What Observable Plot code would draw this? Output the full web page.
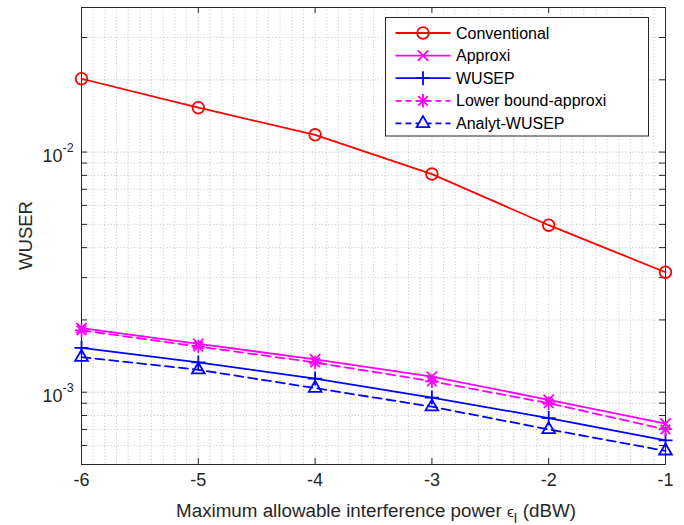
<!DOCTYPE html>
<html><head><meta charset="utf-8">
<script src="https://cdn.jsdelivr.net/npm/d3@7"></script>
<script src="https://cdn.jsdelivr.net/npm/@observablehq/plot@0.6"></script>
<style>
body{margin:0;background:#fff;}
#wrap{position:relative;width:684px;height:525px;}
</style>
</head><body><div id="wrap"></div>
<script>
// ---- data ----
const xValues = [-6, -5, -4, -3, -2, -1];
const conventional = [0.0202, 0.0153, 0.0118, 0.0081, 0.00496, 0.00316];
const approxi = [0.00185, 0.00159, 0.00137, 0.00116, 0.00093, 0.00074];
const wusep = [0.00153, 0.00133, 0.00114, 0.00095, 0.00078, 0.00063];
const lowerBoundApproxi = [0.00181, 0.00155, 0.00133, 0.00111, 0.00090, 0.00070];
const analytWusep = [0.00140, 0.00124, 0.00104, 0.00087, 0.00070, 0.00057];
const seriesNames = ["Conventional", "Approxi", "WUSEP", "Lower bound-approxi", "Analyt-WUSEP"];
const seriesColors = ["#ff0000", "#ff00ff", "#0000ff", "#ff00ff", "#0000ff"];
const seriesDash = [null, null, null, "9,5", "9,5"];
const xTicks = [-6, -5, -4, -3, -2, -1];
const yMajorTicks = [1e-3, 1e-2];
const yTickExponents = ["-3", "-2"];
const yMinorTicks = [5e-4, 6e-4, 7e-4, 8e-4, 9e-4, 2e-3, 3e-3, 4e-3, 5e-3, 6e-3, 7e-3, 8e-3, 9e-3, 2e-2, 3e-2, 4e-2];
const xMinorTicks = d3.range(-60, -9).map(v => v / 10);
const yDomain = [5e-4, 4e-2];

const seriesValues = [conventional, approxi, wusep, lowerBoundApproxi, analytWusep];
const rows = [];
seriesNames.forEach((name, s) => {
  xValues.forEach((x, i) => rows.push({series: name, x, y: seriesValues[s][i]}));
});
const bySeries = name => rows.filter(r => r.series === name);

const W = 684, H = 525, mL = 81, mR = 19, mT = 7, mB = 61;
const fw = W - mL - mR, fh = H - mT - mB;
const axisColor = "#262626";
const gridStyle = {stroke: "#b4b4b4", strokeDasharray: "1,2.3", strokeWidth: 0.8};
const tickLen = 6;
const lw = 1.8;

const marks = [
  Plot.ruleX(xMinorTicks, {x: d => d, ...gridStyle}),
  Plot.ruleY(yMinorTicks, {y: d => d, ...gridStyle}),
  Plot.ruleY(yMajorTicks, {y: d => d, ...gridStyle, stroke: "#a0a0a0"}),
  Plot.frame({stroke: axisColor, strokeWidth: 1}),
  // inward ticks
  Plot.tickX(xTicks, {x: d => d, insetTop: fh - tickLen, stroke: axisColor}),
  Plot.tickX(xTicks, {x: d => d, insetBottom: fh - tickLen, stroke: axisColor}),
  Plot.tickY(yMajorTicks.concat(yMinorTicks), {y: d => d, insetRight: fw - tickLen, stroke: axisColor}),
  Plot.tickY(yMajorTicks.concat(yMinorTicks), {y: d => d, insetLeft: fw - tickLen, stroke: axisColor}),
  // tick labels
  Plot.text(xTicks, {x: d => d, frameAnchor: "bottom", dy: 21, text: d => String(d), fontSize: 18, fill: axisColor}),
  Plot.text(yMajorTicks, {y: d => d, frameAnchor: "left", dx: -19, dy: 4, textAnchor: "end", text: () => "10", fontSize: 18, fill: axisColor}),
  Plot.text(yMajorTicks, {y: d => d, frameAnchor: "left", dx: -19, dy: -4, textAnchor: "start", text: (d, i) => yTickExponents[i], fontSize: 12.5, fill: axisColor}),
];

seriesNames.forEach((name, s) => {
  marks.push(Plot.line(bySeries(name), {x: "x", y: "y", stroke: seriesColors[s], strokeWidth: lw, strokeDasharray: seriesDash[s] || undefined}));
});
const dotOpts = (s, symbol, r) => ({x: "x", y: "y", symbol, r, stroke: seriesColors[s], strokeWidth: lw, fill: "none"});
marks.push(Plot.dot(bySeries("Conventional"), dotOpts(0, "circle", 5.8)));
marks.push(Plot.dot(bySeries("Approxi"), dotOpts(1, "times", 4.8)));
marks.push(Plot.dot(bySeries("WUSEP"), dotOpts(2, "plus", 4.6)));
marks.push(Plot.dot(bySeries("Lower bound-approxi"), dotOpts(3, "plus", 4.4)));
marks.push(Plot.dot(bySeries("Lower bound-approxi"), dotOpts(3, "times", 4.4)));
marks.push(Plot.dot(bySeries("Analyt-WUSEP"), dotOpts(4, "triangle", 4.7)));

const chart = Plot.plot({
  width: W, height: H,
  marginLeft: mL, marginRight: mR, marginTop: mT, marginBottom: mB,
  style: {fontFamily: "'Liberation Sans', Arial, Helvetica, sans-serif", background: "#fff", color: axisColor},
  x: {domain: [-6, -1], axis: null},
  y: {type: "log", domain: yDomain, axis: null},
  marks
});
document.getElementById("wrap").appendChild(chart);

// axis labels with sub/superscripts and legend
const svg = d3.select(chart);
const font = "'Liberation Sans', Arial, Helvetica, sans-serif";
const xl = svg.append("text").attr("x", 376).attr("y", 516.5).attr("text-anchor", "middle")
  .attr("font-family", font).attr("font-size", 18.8).attr("fill", axisColor);
xl.append("tspan").text("Maximum allowable interference power ");
xl.append("tspan").text("\u03f5").attr("font-size", 15);
xl.append("tspan").text("I").attr("font-size", 14).attr("dy", 6);
xl.append("tspan").text(" (dBW)").attr("dy", -6);

svg.append("text").attr("transform", `translate(32,${mT + fh / 2}) rotate(-90)`).attr("text-anchor", "middle")
  .attr("font-family", font).attr("font-size", 18.5).attr("fill", axisColor).text("WUSER");

// legend
const lg = svg.append("g").attr("transform", "translate(385.5,17.5)");
lg.append("rect").attr("width", 263).attr("height", 118.5).attr("fill", "#fff").attr("stroke", axisColor).attr("stroke-width", 1);
const legendSymbols = [["circle", 5.8], ["times", 4.8], ["plus", 4.6], ["asterisk", 4.4], ["triangle", 4.7]];
const symMap = {circle: d3.symbolCircle, times: d3.symbolTimes, plus: d3.symbolPlus, triangle: d3.symbolTriangle};
seriesNames.forEach((name, s) => {
  const gy = 15.5 + s * 22.6;
  const g = lg.append("g").attr("transform", `translate(0,${gy})`);
  g.append("line").attr("x1", 10).attr("x2", 65).attr("stroke", seriesColors[s]).attr("stroke-width", lw)
    .attr("stroke-dasharray", seriesDash[s] ? "6,4" : null);
  const [sym, r] = legendSymbols[s];
  const types = sym === "asterisk" ? ["plus", "times"] : [sym];
  types.forEach(t => {
    g.append("path").attr("transform", "translate(37.5,0)")
      .attr("d", d3.symbol(symMap[t], r * r * Math.PI)())
      .attr("fill", seriesDash[s] ? "#fff" : "none").attr("stroke", seriesColors[s]).attr("stroke-width", lw);
  });
  g.append("text").attr("x", 70.5).attr("y", 0).attr("dy", "0.35em").attr("text-anchor", "start")
    .attr("font-family", font).attr("font-size", 16).attr("fill", "#000").text(name);
});
</script>
</body></html>
